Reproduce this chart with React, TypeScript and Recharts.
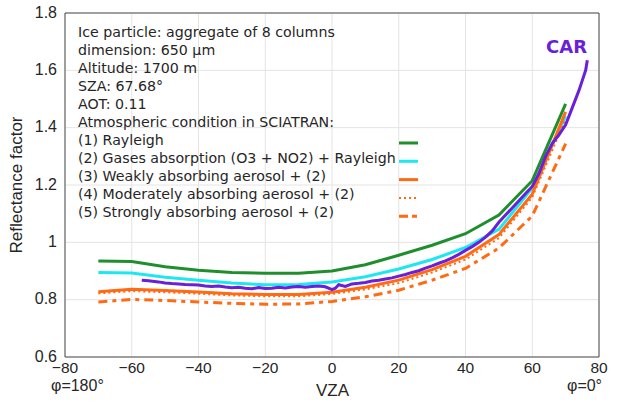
import { LineChart, Line, CartesianGrid, XAxis, YAxis, ReferenceLine } from 'recharts';

// model VZA grid (degrees)
const vza = [-70, -60, -50, -40, -30, -20, -10, 0, 10, 20, 30, 40, 50, 60, 70];

// SCIATRAN simulations
const rayleigh = [0.935, 0.933, 0.915, 0.903, 0.895, 0.892, 0.892, 0.9, 0.922, 0.955, 0.99, 1.03, 1.095, 1.215, 1.483];
const gases = [0.895, 0.893, 0.878, 0.868, 0.858, 0.852, 0.853, 0.862, 0.88, 0.907, 0.94, 0.982, 1.045, 1.19, 1.44];
const weakAerosol = [0.828, 0.836, 0.832, 0.827, 0.821, 0.818, 0.818, 0.826, 0.843, 0.868, 0.905, 0.951, 1.027, 1.168, 1.455];
const moderateAerosol = [0.822, 0.83, 0.826, 0.821, 0.815, 0.812, 0.812, 0.82, 0.836, 0.858, 0.895, 0.94, 1.015, 1.157, 1.43];
const strongAerosol = [0.792, 0.801, 0.797, 0.792, 0.787, 0.784, 0.785, 0.794, 0.81, 0.833, 0.868, 0.909, 0.98, 1.092, 1.344];

// CAR measurements
const carVza = [-57, -55, -52, -50, -48, -46, -44, -42, -40, -38, -36, -34, -32, -30, -28, -26, -24, -22, -20, -18, -16, -14, -12, -10, -8, -6, -4, -2, 0, 1, 2, 4, 6, 8, 10, 12, 14, 16, 18, 20, 22, 24, 26, 28, 30, 32, 34, 36, 38, 40, 42, 44, 46, 48, 50, 52, 54, 56, 58, 60, 62, 64, 66, 68, 70, 72, 74, 75, 76, 76.5];
const carValues = [0.868, 0.866, 0.862, 0.858, 0.856, 0.855, 0.853, 0.852, 0.851, 0.848, 0.846, 0.848, 0.844, 0.842, 0.843, 0.84, 0.838, 0.842, 0.839, 0.84, 0.843, 0.841, 0.844, 0.846, 0.843, 0.846, 0.848, 0.845, 0.835, 0.84, 0.852, 0.846, 0.855, 0.857, 0.86, 0.865, 0.868, 0.872, 0.876, 0.882, 0.888, 0.895, 0.901, 0.91, 0.918, 0.927, 0.935, 0.946, 0.958, 0.972, 0.985, 1.0, 1.018, 1.04, 1.07, 1.095, 1.12, 1.145, 1.17, 1.195, 1.24, 1.3, 1.345, 1.375, 1.41, 1.47, 1.53, 1.565, 1.6, 1.635];

const xTicks = [-80, -60, -40, -20, 0, 20, 40, 60, 80];
const yTicks = [0.6, 0.8, 1, 1.2, 1.4, 1.6, 1.8];

const infoLines = [
  'Ice particle: aggregate of 8 columns',
  'dimension: 650 μm',
  'Altitude: 1700 m',
  'SZA: 67.68°',
  'AOT: 0.11',
  'Atmospheric condition in SCIATRAN:',
  '(1) Rayleigh',
  '(2) Gases absorption (O3 + NO2) + Rayleigh',
  '(3) Weakly absorbing aerosol + (2)',
  '(4) Moderately absorbing aerosol + (2)',
  '(5) Strongly absorbing aerosol + (2)',
];

const toPoints = (xs: number[], ys: number[]) => xs.map((x, i) => ({ x, y: ys[i] }));

const FONT = '"Liberation Sans", Arial, sans-serif';
const NOTE_FONT = '"DejaVu Sans", sans-serif';
const TEXT = '#262626';

const series = [
  { name: 'Rayleigh', values: rayleigh, color: '#1f8f2e', width: 3, dash: undefined, key: undefined },
  { name: 'Gases', values: gases, color: '#1de8f2', width: 3, dash: undefined, key: undefined },
  { name: 'Weak', values: weakAerosol, color: '#ff6a13', width: 3, dash: undefined, key: undefined },
  { name: 'Moderate', values: moderateAerosol, color: '#ff6a13', width: 2, dash: '2 3', key: '2 3' },
  { name: 'Strong', values: strongAerosol, color: '#ff6a13', width: 3, dash: '9 5 4 5', key: '9 4 5 4' },
];

export default function App() {
  return (
    <div
      style={{
        position: 'fixed',
        left: 0,
        top: 0,
        width: 617,
        height: 404,
        overflow: 'hidden',
        background: '#fff',
        fontFamily: FONT,
      }}
    >
      <LineChart width={617} height={404} margin={{ top: 13, right: 18, bottom: 0, left: 0 }}>
        <CartesianGrid stroke="#e4e4e4" strokeWidth={1} />
        <XAxis
          type="number"
          dataKey="x"
          domain={[-80, 80]}
          ticks={xTicks}
          allowDataOverflow
          height={47}
          tickLine={false}
          tickSize={0}
          tickMargin={5}
          tickFormatter={(v: number) => String(v).replace('-', '\u2212')}
          axisLine={{ stroke: '#4d4d4d' }}
          tick={{ fill: TEXT, fontSize: 15.5, fontFamily: FONT }}
        />
        <YAxis
          type="number"
          domain={[0.6, 1.8]}
          ticks={yTicks}
          width={65}
          tickLine={false}
          tickSize={0}
          tickMargin={8}
          axisLine={{ stroke: '#4d4d4d' }}
          tick={{ fill: TEXT, fontSize: 16, fontFamily: FONT, dy: -1 }}
        />
        <ReferenceLine x={80} stroke="#4d4d4d" />
        <ReferenceLine y={1.8} stroke="#4d4d4d" />
        {series.map((s) => (
          <Line
            key={s.name}
            data={toPoints(vza, s.values)}
            dataKey="y"
            type="linear"
            stroke={s.color}
            strokeWidth={s.width}
            strokeDasharray={s.dash}
            dot={false}
            isAnimationActive={false}
          />
        ))}
        <Line
          data={toPoints(carVza, carValues)}
          dataKey="y"
          type="linear"
          stroke="#6a1fd8"
          strokeWidth={3}
          dot={false}
          isAnimationActive={false}
        />
      </LineChart>

      {/* annotation block */}
      <div
        style={{
          position: 'absolute',
          left: 78,
          top: 23,
          fontSize: 14.2,
          lineHeight: '18px',
          color: TEXT,
          whiteSpace: 'nowrap',
          fontFamily: NOTE_FONT,
        }}
      >
        {infoLines.map((t) => (
          <div key={t}>{t}</div>
        ))}
      </div>
      <svg style={{ position: 'absolute', left: 0, top: 0 }} width={617} height={404}>
        {series.map((s, i) => (
          <line
            key={s.name}
            x1={399}
            x2={418}
            y1={143 + i * 18.3}
            y2={143 + i * 18.3}
            stroke={s.color}
            strokeWidth={s.width}
            strokeDasharray={s.key}
          />
        ))}
      </svg>
      <div
        style={{
          position: 'absolute',
          left: 546,
          top: 36,
          fontSize: 18,
          fontWeight: 'bold',
          color: '#6a1fd8',
          fontFamily: NOTE_FONT,
        }}
      >
        CAR
      </div>
      <div
        style={{
          position: 'absolute',
          left: 17,
          top: 185,
          fontSize: 17,
          color: TEXT,
          whiteSpace: 'nowrap',
          transform: 'translate(-50%, -50%) rotate(-90deg)',
        }}
      >
        Reflectance factor
      </div>
      <div style={{ position: 'absolute', left: 51, top: 378, fontSize: 16, lineHeight: '16px', color: TEXT }}>φ=180°</div>
      <div style={{ position: 'absolute', left: 316, top: 382, fontSize: 17, lineHeight: '18px', color: TEXT }}>VZA</div>
      <div style={{ position: 'absolute', left: 567, top: 378, fontSize: 16, lineHeight: '16px', color: TEXT }}>φ=0°</div>
    </div>
  );
}
